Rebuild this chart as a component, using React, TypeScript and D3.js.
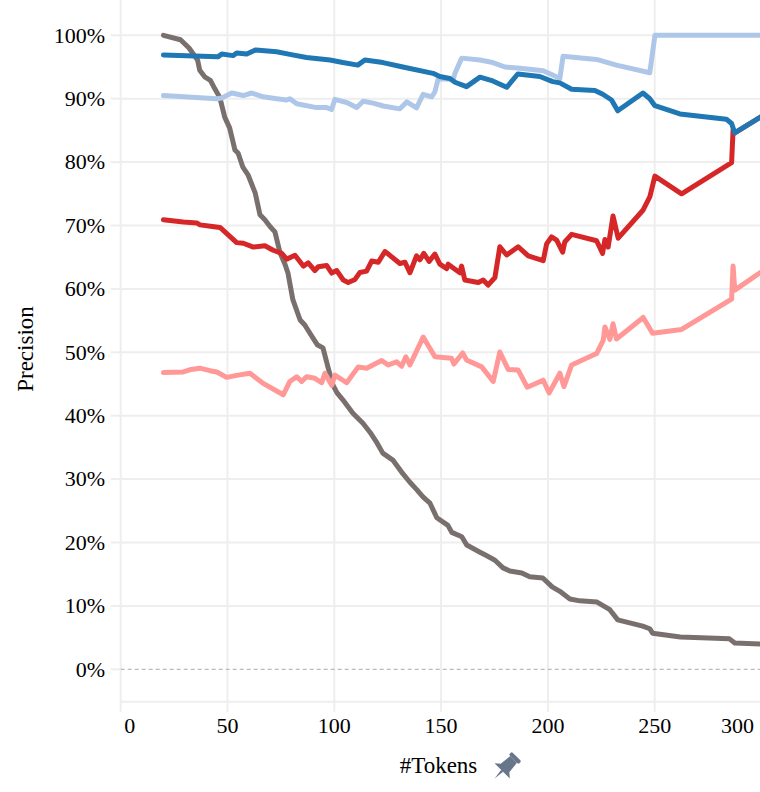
// App.tsx
import React from 'react';
import * as d3 from 'd3';

// token counts / precision values
const grayX = [20, 28, 32, 36, 37, 39.5, 42, 44, 46.4, 48.7, 51, 53.5, 55, 57.2, 59.6, 63, 65.2, 67.5, 70, 72.2, 74.6, 77, 78.3, 80.6, 84, 86.2, 88.6, 92, 94.7, 97, 99.4, 101.3, 104, 108.7, 113.4, 116.7, 120, 122.7, 127.4, 132, 135.4, 138.7, 141.5, 144.8, 148, 153.2, 155, 159.7, 162, 168, 171.4, 175.2, 179, 182.2, 187.8, 191.5, 197.6, 202, 205.6, 210.3, 215, 223, 229, 232.7, 244.4, 247.7, 249, 262, 285, 287.5, 300];
const grayY = [100, 99.3, 98, 96.1, 94.5, 93.4, 92.9, 91.6, 90.2, 87.1, 85.4, 81.9, 81.4, 79.2, 78, 75.1, 71.7, 70.9, 69.8, 69, 65.7, 63.8, 62.5, 58.3, 55.1, 54.3, 53, 51.2, 50.7, 47.7, 44.8, 43.6, 42.5, 40.4, 38.8, 37.4, 35.7, 34.1, 33, 30.9, 29.5, 28.3, 27.2, 26.2, 23.9, 22.7, 21.6, 20.9, 19.6, 18.5, 17.9, 17.2, 16, 15.5, 15.2, 14.6, 14.4, 13, 12.3, 11.1, 10.8, 10.6, 9.4, 7.8, 6.8, 6.4, 5.7, 5.1, 4.8, 4.15, 4];

const pinkX = [20, 29.3, 33, 37, 41.8, 45, 49.6, 55, 60.5, 66.7, 73, 76.1, 79.2, 82.4, 84.7, 87, 90.9, 94.1, 95.6, 98.8, 100.3, 105.8, 111.2, 115.1, 122.2, 125.2, 129.2, 131.5, 133.5, 135.4, 141.6, 147.1, 154.9, 156, 160.1, 161.9, 169, 174.4, 177.5, 181.4, 186.1, 190.3, 197.8, 200.6, 205.6, 207.5, 211.1, 222.8, 225.9, 226.7, 229, 230.5, 232.1, 244.6, 249, 262.6, 286, 286.7, 287.5, 300];
const pinkY = [46.8, 46.9, 47.3, 47.5, 47.1, 46.9, 46.05, 46.4, 46.7, 45.1, 43.9, 43.3, 45.4, 46.15, 45.4, 46.15, 45.9, 45.2, 46.7, 44.8, 46.4, 45.2, 47.7, 47.5, 48.7, 48, 48.5, 47.8, 49.3, 48, 52.4, 49.3, 49.05, 48.15, 49.9, 48.8, 47.7, 45.4, 50.05, 47.3, 47.2, 44.5, 45.6, 43.6, 46.7, 44.6, 48, 49.8, 51.9, 54, 52.05, 54.5, 52.1, 55.5, 53, 53.6, 58.4, 63.6, 59.8, 62.7];

const redX = [20, 29.3, 35.6, 37.1, 42, 46.5, 48.8, 54.3, 57.4, 62.1, 67.5, 71.4, 75.4, 77.7, 81.6, 85.5, 87.8, 90.9, 92.5, 96.4, 98.8, 101.1, 104.2, 106.5, 109.7, 112, 115.1, 117.5, 120.6, 123.7, 126, 130.7, 133.1, 135.4, 138.5, 140.1, 141.9, 144.4, 147.1, 149.4, 152.6, 153.3, 156.5, 158.8, 159.6, 161.1, 167.4, 169.7, 172, 175.2, 177.5, 180.7, 186.1, 190.8, 197.8, 199.4, 201.7, 204.1, 206.9, 207.9, 211.1, 222.8, 225.6, 226.7, 228.2, 230.5, 232.9, 244.6, 247.7, 250.1, 262.6, 286, 286.7, 287.5, 300];
const redY = [70.9, 70.55, 70.4, 70.1, 69.9, 69.7, 69, 67.3, 67.2, 66.6, 66.8, 66.1, 65.6, 64.7, 65.3, 63.6, 64.1, 62.9, 63.5, 63.7, 62.5, 62.9, 61.4, 61, 61.5, 62.6, 62.8, 64.4, 64.2, 65.9, 65.3, 64, 64.2, 62.55, 65.2, 64.6, 65.6, 64.35, 65.5, 63.9, 63.2, 63.9, 63.1, 62.55, 63.6, 61.4, 61, 61.4, 60.6, 61.8, 66.65, 65.35, 66.65, 65.2, 64.45, 67.1, 68.2, 67.7, 65.8, 67.4, 68.6, 67.6, 65.6, 67.8, 66.6, 71.5, 68, 72.45, 74.5, 77.8, 75, 79.9, 85.1, 84.6, 87.2];

const lightBlueX = [20, 44.9, 47.3, 52, 57.4, 61.3, 66.7, 73, 77.7, 79.2, 82.4, 91.7, 96.4, 98.7, 100.3, 105.8, 110.5, 113.5, 118.2, 122.9, 130.7, 133.9, 138.5, 141.6, 145.6, 147.1, 148.6, 155.7, 156.5, 159.6, 168.2, 174.2, 179.9, 186.9, 197.8, 202.5, 205.6, 207.1, 222.8, 232.1, 247.7, 250.1, 300];
const lightBlueY = [90.5, 90, 90.1, 90.9, 90.5, 90.9, 90.3, 90, 89.8, 90, 89.2, 88.6, 88.6, 88.3, 89.9, 89.4, 88.6, 89.6, 89.3, 88.85, 88.4, 89.5, 88.55, 90.7, 90.3, 91.1, 93.1, 93.1, 94, 96.4, 96.1, 95.7, 95, 94.8, 94.4, 93.7, 93.2, 96.7, 96.2, 95.3, 94.1, 100, 100];

const blueX = [20, 45.5, 47.3, 52.6, 54.3, 59, 63.3, 73, 79.2, 87, 98, 104, 111, 114.3, 122.8, 132.1, 146.2, 149.4, 154.1, 156.5, 161.9, 168.2, 174.2, 180.7, 185.9, 196.2, 202.3, 205.6, 211.1, 222, 225.7, 229.8, 232.7, 244.5, 247.7, 250.1, 261.8, 283.6, 286, 287.5, 300];
const blueY = [96.9, 96.6, 97.05, 96.8, 97.2, 97.05, 97.7, 97.4, 97, 96.5, 96.1, 95.7, 95.3, 96.1, 95.7, 95, 94, 93.5, 93.2, 92.6, 91.9, 93.4, 92.8, 91.8, 93.9, 93.5, 92.7, 92.5, 91.5, 91.3, 90.7, 89.8, 88.1, 90.9, 90, 88.9, 87.6, 86.75, 86.1, 84.6, 87.2];

const xTicks = [0, 50, 100, 150, 200, 250, 300];
const yTicks = [0, 10, 20, 30, 40, 50, 60, 70, 80, 90, 100];

const series = [
    { name: 'gray', color: '#79706e', xs: grayX, ys: grayY },
    { name: 'pink', color: '#ff9896', xs: pinkX, ys: pinkY },
    { name: 'red', color: '#d62728', xs: redX, ys: redY },
    { name: 'lightBlue', color: '#aec7e8', xs: lightBlueX, ys: lightBlueY },
    { name: 'blue', color: '#1f77b4', xs: blueX, ys: blueY },
];

const W = 760;
const H = 792;
const left = 120.7;
const right = 760;
const top = 0;
const bottom = 701.7;

const App: React.FC = () => {
    const x = d3.scaleLinear().domain([0, 299.3]).range([left, right]);
    const y = d3.scaleLinear().domain([-5.11, 105.57]).range([bottom, top]);
    const grid = '#eeeeee';
    const font = '"Liberation Serif", "Times New Roman", serif';

    const line = d3
        .line<[number, number]>()
        .x((d) => x(d[0]))
        .y((d) => y(d[1]));

    return (
        <svg
            width={W}
            height={H}
            style={{ position: 'absolute', left: 0, top: 0, background: '#fff' }}
            fontFamily={font}
        >
            <defs>
                <clipPath id="plot">
                    <rect x={left} y={top} width={right - left} height={bottom - top} />
                </clipPath>
            </defs>

            {/* grid */}
            {yTicks.map((t) => (
                <g key={'y' + t}>
                    {t !== 0 && (
                        <line x1={left} x2={right} y1={y(t)} y2={y(t)} stroke={grid} strokeWidth={2} />
                    )}
                    <line x1={left - 10} x2={left} y1={y(t)} y2={y(t)} stroke={grid} strokeWidth={2} />
                    <text x={105} y={y(t)} dy="0.33em" textAnchor="end" fontSize={22} fill="#000">
                        {t}%
                    </text>
                </g>
            ))}
            {xTicks.map((t) => (
                <g key={'x' + t}>
                    <line x1={x(t)} x2={x(t)} y1={top} y2={bottom} stroke={grid} strokeWidth={2} />
                    <line x1={x(t)} x2={x(t)} y1={bottom} y2={bottom + 10} stroke={grid} strokeWidth={2} />
                    <text
                        x={t === 0 ? x(t) + 9 : t === 300 ? x(t) - 24 : x(t)}
                        y={733}
                        textAnchor="middle"
                        fontSize={22}
                        fill="#000"
                    >
                        {t}
                    </text>
                </g>
            ))}
            <line x1={left} x2={right} y1={bottom} y2={bottom} stroke={grid} strokeWidth={2} />
            <line x1={left} x2={right} y1={y(0)} y2={y(0)} stroke="#bbb" strokeWidth={1.2} strokeDasharray="4,3" />

            {/* series */}
            <g clipPath="url(#plot)">
                {series.map((s) => (
                    <path
                        key={s.name}
                        d={line(s.xs.map((v, i) => [v, s.ys[i]] as [number, number])) || ''}
                        fill="none"
                        stroke={s.color}
                        strokeWidth={5}
                        strokeLinejoin="round"
                        strokeLinecap="round"
                    />
                ))}
            </g>

            {/* axis titles */}
            <text
                transform={`translate(33,349) rotate(-90)`}
                textAnchor="middle"
                fontSize={23}
                fill="#000"
            >
                Precision
            </text>
            <text x={438.5} y={773} textAnchor="middle" fontSize={23} fill="#000">
                #Tokens
            </text>
            {/* pin icon */}
            <g transform="translate(506,767) rotate(45) scale(1.35)" fill="#67768a">
                <rect x={-5} y={-11} width={10} height={3} rx={1} />
                <path d="M-3.5,-8 L3.5,-8 L4.5,1 L8,4 L-8,4 L-4.5,1 Z" />
                <path d="M-1,4 L1,4 L0,12 Z" />
            </g>
        </svg>
    );
};

export default App;
